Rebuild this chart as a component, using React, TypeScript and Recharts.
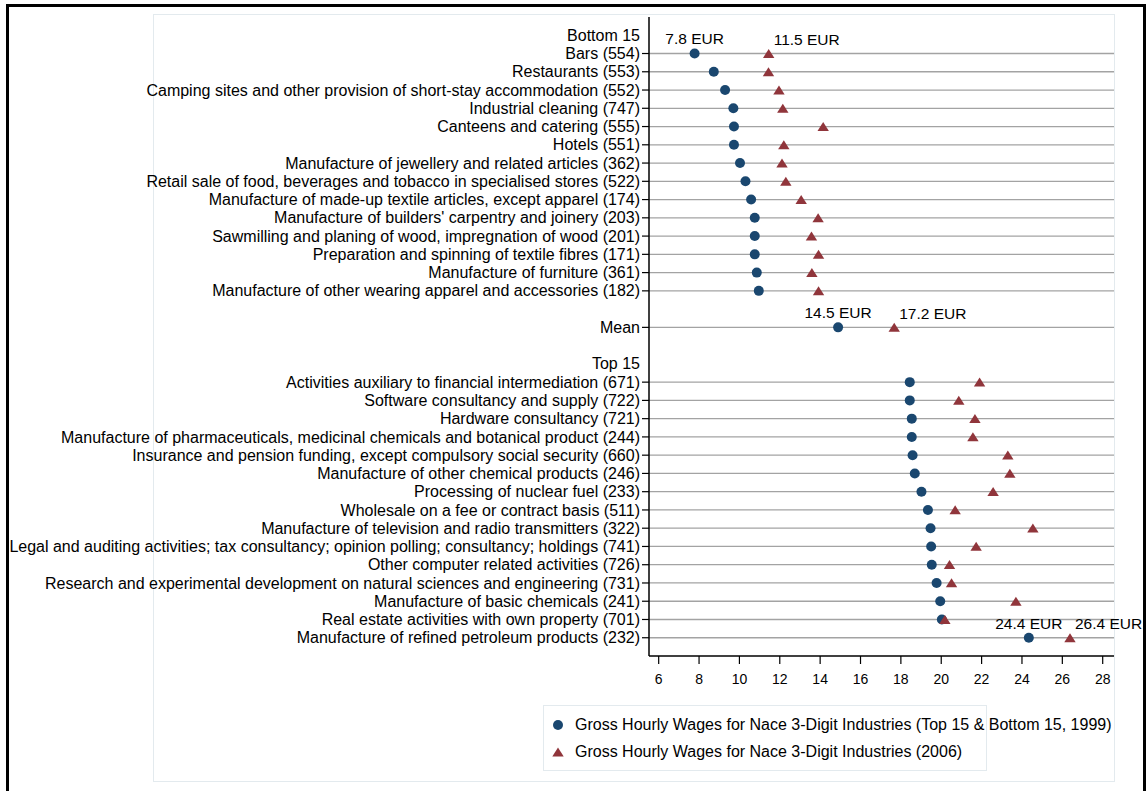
import { Legend, ReferenceLine, Scatter, ScatterChart, XAxis, YAxis } from "recharts";

// Stata s2color look: navy circles for 1999, maroon triangles for 2006
const NAVY = "#1a476f";
const MAROON = "#90353b";
const GRID = "#a3a3a3";
const REGION = "#e3eaee";
const FONT = "'Liberation Sans', Arial, Helvetica, sans-serif";

const bottomIndustries = [
  "Bars (554)",
  "Restaurants (553)",
  "Camping sites and other provision of short-stay accommodation (552)",
  "Industrial cleaning (747)",
  "Canteens and catering (555)",
  "Hotels (551)",
  "Manufacture of jewellery and related articles (362)",
  "Retail sale of food, beverages and tobacco in specialised stores (522)",
  "Manufacture of made-up textile articles, except apparel (174)",
  "Manufacture of builders' carpentry and joinery (203)",
  "Sawmilling and planing of wood, impregnation of wood (201)",
  "Preparation and spinning of textile fibres (171)",
  "Manufacture of furniture (361)",
  "Manufacture of other wearing apparel and accessories (182)",
];
const bottomWage1999 = [7.78, 8.73, 9.29, 9.7, 9.73, 9.73, 10.03, 10.3, 10.58, 10.76, 10.76, 10.76, 10.86, 10.96];
const bottomWage2006 = [11.45, 11.44, 11.96, 12.15, 14.15, 12.2, 12.11, 12.3, 13.06, 13.9, 13.57, 13.92, 13.59, 13.92];

const meanWage1999 = 14.89;
const meanWage2006 = 17.67;

const topIndustries = [
  "Activities auxiliary to financial intermediation (671)",
  "Software consultancy and supply (722)",
  "Hardware consultancy (721)",
  "Manufacture of pharmaceuticals, medicinal chemicals and botanical product (244)",
  "Insurance and pension funding, except compulsory social security (660)",
  "Manufacture of other chemical products (246)",
  "Processing of nuclear fuel (233)",
  "Wholesale on a fee or contract basis (511)",
  "Manufacture of television and radio transmitters (322)",
  "Legal and auditing activities; tax consultancy; opinion polling; consultancy; holdings (741)",
  "Other computer related activities (726)",
  "Research and experimental development on natural sciences and engineering (731)",
  "Manufacture of basic chemicals (241)",
  "Real estate activities with own property (701)",
  "Manufacture of refined petroleum products (232)",
];
const topWage1999 = [18.44, 18.44, 18.54, 18.54, 18.58, 18.69, 19.02, 19.34, 19.47, 19.5, 19.53, 19.77, 19.95, 20.03, 24.34];
const topWage2006 = [21.9, 20.87, 21.67, 21.57, 23.3, 23.4, 22.57, 20.69, 24.54, 21.73, 20.41, 20.51, 23.7, 20.18, 26.38];

const xTicks = [6, 8, 10, 12, 14, 16, 18, 20, 22, 24, 26, 28];

const annotated = ["Bars (554)", "Mean", "Manufacture of refined petroleum products (232)"];
const notes1999 = ["7.8 EUR", "14.5 EUR", "24.4 EUR"];
const notes2006 = ["11.5 EUR", "17.2 EUR", "26.4 EUR"];

const legendNames = [
  "Gross Hourly Wages for Nace 3-Digit Industries (Top 15 & Bottom 15, 1999)",
  "Gross Hourly Wages for Nace 3-Digit Industries (2006)",
];

type Row = { row: number; label: string; kind: "header" | "item" | "gap"; w1999?: number; w2006?: number };

const rows: Row[] = [];
const push = (label: string, kind: Row["kind"], w1999?: number, w2006?: number) =>
  rows.push({ row: rows.length, label, kind, w1999, w2006 });

push("Bottom 15", "header");
bottomIndustries.forEach((n, i) => push(n, "item", bottomWage1999[i], bottomWage2006[i]));
push("", "gap");
push("Mean", "item", meanWage1999, meanWage2006);
push("", "gap");
push("Top 15", "header");
topIndustries.forEach((n, i) => push(n, "item", topWage1999[i], topWage2006[i]));

const items = rows.filter((r) => r.kind === "item");
const labelRows = rows.filter((r) => r.kind !== "gap").map((r) => r.row);

const series1999 = items.map((r) => {
  const k = annotated.indexOf(r.label);
  return { row: r.row, wage: r.w1999, note: k >= 0 ? notes1999[k] : "" };
});
const series2006 = items.map((r) => {
  const k = annotated.indexOf(r.label);
  return { row: r.row, wage: r.w2006, note: k >= 0 ? notes2006[k] : "" };
});

function IndustryTick(props: any) {
  const { x, y, payload } = props;
  const row = rows[payload.value];
  if (!row) return null;
  return (
    <g>
      <text x={x} y={y} dy="0.35em" textAnchor="end" fontSize={16} fill="#000">
        {row.label}
      </text>
      {row.kind === "item" && <line x1={x + 2} x2={x + 9} y1={y} y2={y} stroke="#000" strokeWidth={1.2} />}
    </g>
  );
}

function CircleMark(props: any) {
  const { cx, cy, payload } = props;
  return (
    <g>
      <circle cx={cx} cy={cy} r={5} fill={NAVY} />
      {payload.note && (
        <text x={cx} y={cy - 14.5} dy="0.35em" textAnchor="middle" fontSize={15.5} fill="#000">
          {payload.note}
        </text>
      )}
    </g>
  );
}

function TriangleMark(props: any) {
  const { cx, cy, payload } = props;
  return (
    <g>
      <polygon points={`${cx},${cy - 4.6} ${cx + 5.7},${cy + 4.4} ${cx - 5.7},${cy + 4.4}`} fill={MAROON} />
      {payload.note && (
        <text x={cx + 5} y={cy - 14} dy="0.35em" textAnchor="start" fontSize={15.5} fill="#000">
          {payload.note}
        </text>
      )}
    </g>
  );
}

function LegendBox() {
  return (
    <div
      style={{
        position: "relative",
        width: 444,
        height: 66,
        border: `1px solid ${REGION}`,
        boxSizing: "border-box",
        fontSize: 16,
        color: "#000",
        whiteSpace: "nowrap",
      }}
    >
      {legendNames.map((name, i) => (
        <div key={name} style={{ position: "absolute", left: 7, top: 9 + i * 26.6, height: 20, display: "flex", alignItems: "center" }}>
          <svg width={14} height={14} style={{ marginRight: 10 }}>
            {i === 0 ? (
              <circle cx={7} cy={7} r={5} fill={NAVY} />
            ) : (
              <polygon points="7,2.4 12.7,11.4 1.3,11.4" fill={MAROON} />
            )}
          </svg>
          <span>{name}</span>
        </div>
      ))}
    </div>
  );
}

export default function App() {
  return (
    <div style={{ position: "absolute", left: 0, top: 0, width: 1146, height: 791, overflow: "hidden", background: "#fff", fontFamily: FONT }}>
      <div style={{ position: "absolute", left: 6, top: 3.5, width: 1140, height: 820, border: "3.5px solid #000", boxSizing: "border-box" }} />
      <div style={{ position: "absolute", left: 153, top: 14, width: 962, height: 768, border: `1px solid ${REGION}`, boxSizing: "border-box" }} />
      <div style={{ position: "absolute", left: 0, top: 0 }}>
        <ScatterChart width={1146} height={791} margin={{ top: 17, right: 32, bottom: 95, left: 0 }} style={{ overflow: "visible" }}>
          <XAxis
            type="number"
            dataKey="wage"
            domain={[5.52, 28.56]}
            ticks={xTicks}
            height={40}
            tickSize={8}
            tickMargin={10}
            tick={{ fill: "#000", fontSize: 14 }}
            axisLine={{ stroke: "#000", strokeWidth: 1.5 }}
            tickLine={{ stroke: "#000", strokeWidth: 1.2 }}
          />
          <YAxis
            type="number"
            dataKey="row"
            domain={[-1, 34]}
            reversed
            ticks={labelRows}
            interval={0}
            width={649}
            tickSize={7}
            tickMargin={2}
            tick={<IndustryTick />}
            tickLine={false}
            axisLine={{ stroke: "#000", strokeWidth: 1.5 }}
          />
          {items.map((r) => (
            <ReferenceLine key={r.row} y={r.row} stroke={GRID} strokeWidth={1.3} />
          ))}
          <Legend
            layout="horizontal"
            verticalAlign="middle"
            align="center"
            wrapperStyle={{ left: 543, top: 705, width: 444, height: 66 }}
            content={() => <LegendBox />}
          />
          <Scatter name={legendNames[0]} data={series1999} shape={<CircleMark />} isAnimationActive={false} />
          <Scatter name={legendNames[1]} data={series2006} shape={<TriangleMark />} isAnimationActive={false} />
        </ScatterChart>
      </div>
    </div>
  );
}
